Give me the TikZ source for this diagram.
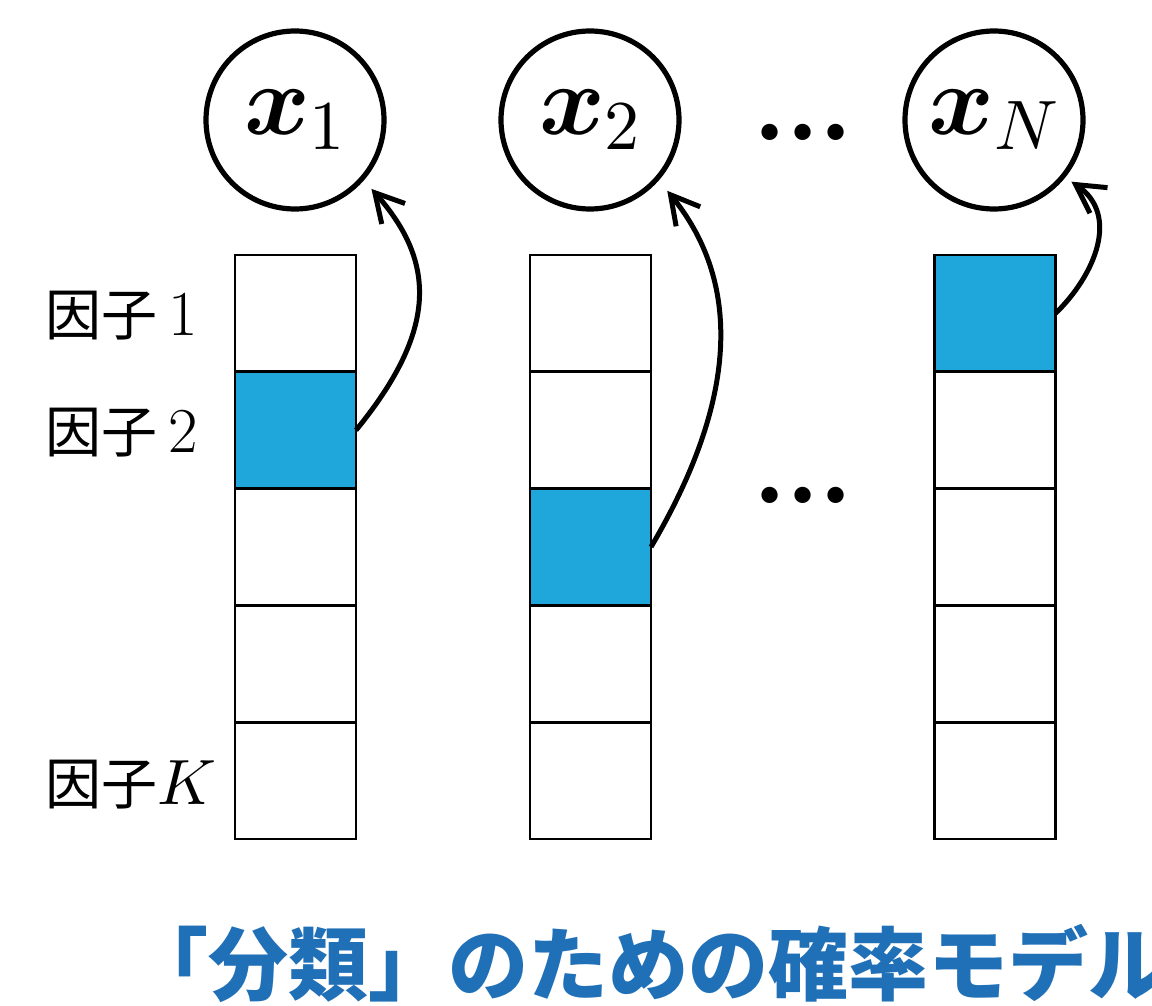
\documentclass[tikz,border=0pt]{standalone}
\usepackage{fontspec}
\usepackage{bm}
\usetikzlibrary{arrows.meta}
\DeclareFontShape{OML}{cmm}{m}{it}{<->cmmi10}{}
\DeclareFontShape{OML}{cmm}{b}{it}{<->cmmib10}{}
\DeclareFontShape{OMS}{cmsy}{m}{n}{<->cmsy10}{}
\DeclareFontShape{OMS}{cmsy}{b}{n}{<->cmbsy10}{}
\DeclareFontShape{OT1}{cmr}{m}{n}{<->cmr10}{}
\DeclareFontShape{OT1}{cmr}{bx}{n}{<->cmbx10}{}
\newfontfamily\cjk{Noto Sans CJK JP}
\definecolor{cellblue}{RGB}{31,167,220}
\definecolor{titleblue}{RGB}{32,112,184}
\newcommand{\mydots}{$\mathord{\cdot}\mathord{\cdot}\mathord{\cdot}$}
\begin{document}
\begin{tikzpicture}[x=0.5pt,y=-0.5pt,
  cell/.style={draw, line width=1.4pt, minimum width=60.5pt, minimum height=58.4pt, inner sep=0pt, outer sep=0pt},
  hot/.style={cell, fill=cellblue},
  var/.style={circle, draw, line width=2.6pt, minimum size=89pt, inner sep=0pt, outer sep=0pt, font=\fontsize{50}{50}\selectfont},
  link/.style={line width=2.5pt, -{Straight Barb[length=14pt,width=15.5pt]}},
  lab/.style={anchor=west, inner sep=0pt, font=\cjk\fontsize{28}{28}\selectfont},
  dotsym/.style={inner sep=0pt, font=\boldmath\fontsize{52}{52}\selectfont},
  ]
\clip (0,0) rectangle (1152,1006);
\fill[white] (0,0) rectangle (1152,1006);

% variable circles
\node[var] (x1) at (295,120) {$\bm{x}_1$};
\node[var] (x2) at (590,120) {$\bm{x}_2$};
\node[var] (xN) at (994,120) {$\bm{x}_N$};
\node[dotsym] (dtop) at (803,134) {\mydots};

% column 1
\node[cell] (a1) at (295.5,313.4) {};
\node[hot]  (a2) at (295.5,430.2) {};
\node[cell] (a3) at (295.5,547.0) {};
\node[cell] (a4) at (295.5,663.8) {};
\node[cell] (a5) at (295.5,780.6) {};
% column 2
\node[cell] (b1) at (590.5,313.4) {};
\node[cell] (b2) at (590.5,430.2) {};
\node[hot]  (b3) at (590.5,547.0) {};
\node[cell] (b4) at (590.5,663.8) {};
\node[cell] (b5) at (590.5,780.6) {};
% column N
\node[hot]  (c1) at (995,313.4) {};
\node[cell] (c2) at (995,430.2) {};
\node[cell] (c3) at (995,547.0) {};
\node[cell] (c4) at (995,663.8) {};
\node[cell] (c5) at (995,780.6) {};

\node[dotsym] (dmid) at (803,497) {\mydots};

% factor labels
\node[lab] (l1) at (45,316) {因子{\rmfamily\fontsize{32}{32}\selectfont\,1}};
\node[lab] (l2) at (45,433) {因子{\rmfamily\fontsize{32}{32}\selectfont\,2}};
\node[lab] (lK) at (45,785) {因子{\fontsize{32}{32}\selectfont$K$}};

% links
\draw[link, shorten >=7pt] (a2.east) .. controls (438,330) and (436,262) .. (x1.-41);
\draw[link, shorten >=8pt] (b3.east) .. controls (720,430) and (756,300) .. (x2.-41);
\draw[link, shorten >=5pt] (c1.east) .. controls (1095,275) and (1120,215) .. (xN.-39);

% title
\node[anchor=west, inner sep=0pt, text=titleblue, font=\cjk\bfseries\fontsize{40}{40}\selectfont] (title) at (128,963) {「分類」のための確率モデル};
\end{tikzpicture}
\end{document}
